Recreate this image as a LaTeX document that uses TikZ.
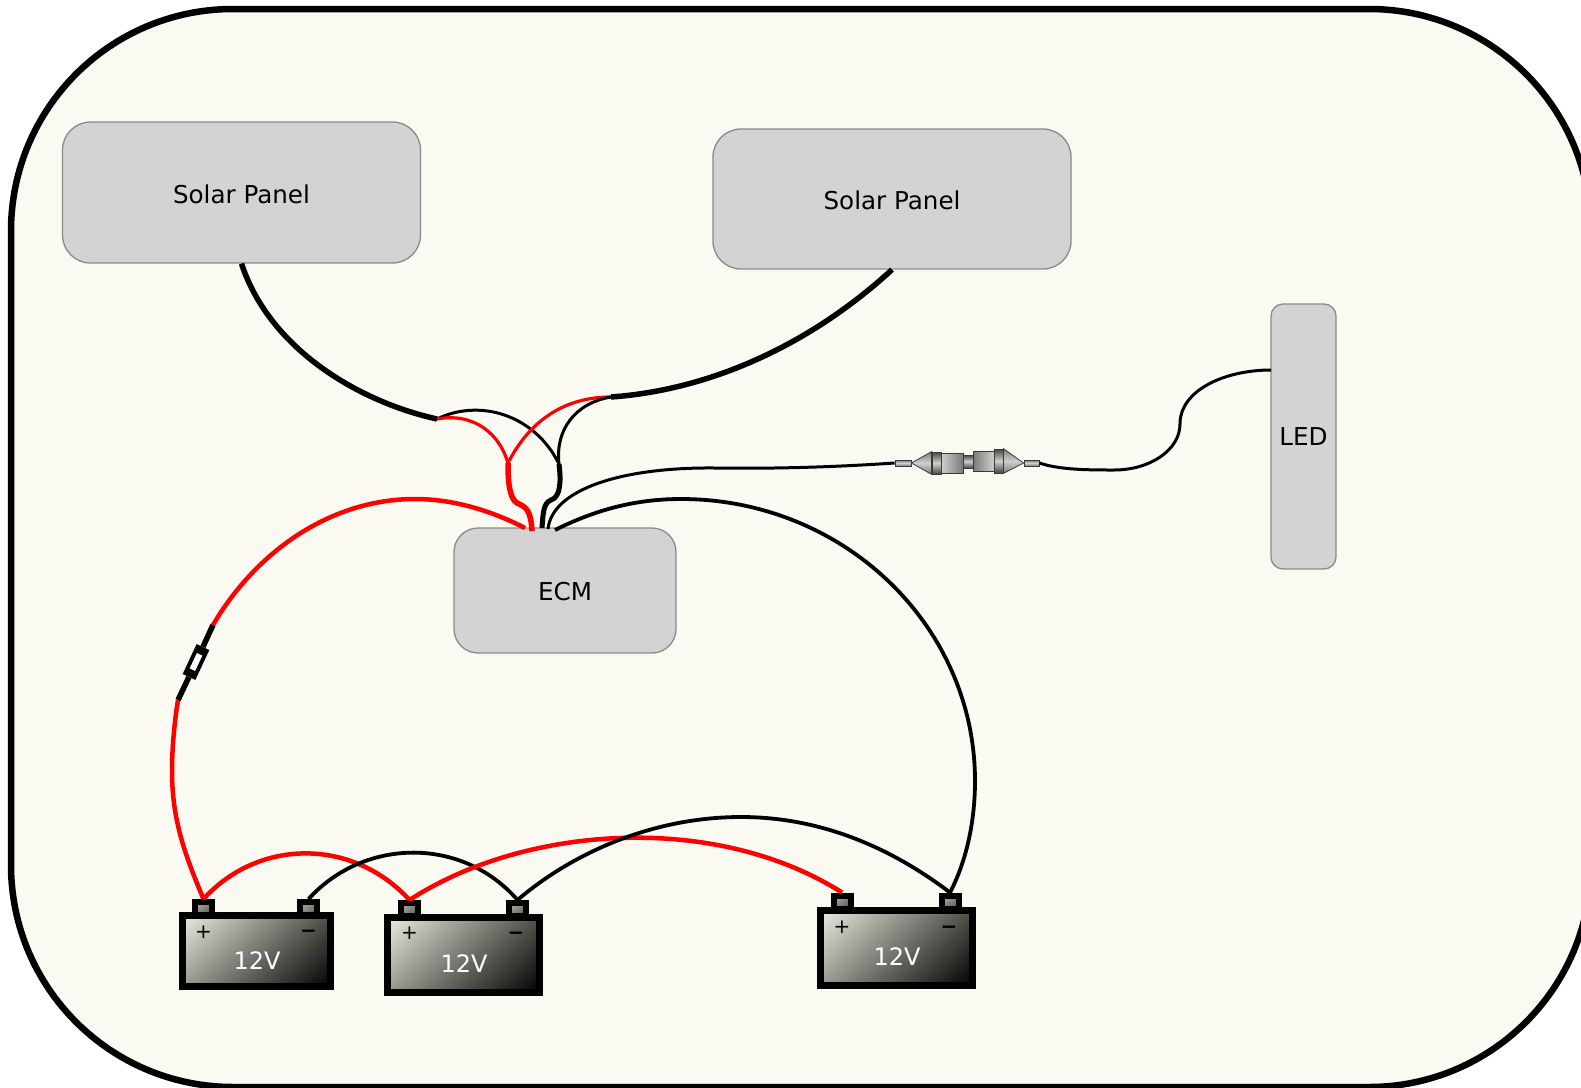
\documentclass[tikz,border=0pt]{standalone}
\usepackage{fontspec}
\setmainfont{DejaVu Sans}
\usetikzlibrary{arrows,shadings}

\definecolor{shell}{HTML}{FAFAF2}
\definecolor{boxgray}{HTML}{D3D3D3}
\definecolor{boxline}{HTML}{8A8A8A}
\definecolor{batlight}{HTML}{ECECE2}
\definecolor{batright}{HTML}{505049}
\definecolor{batleft}{HTML}{9A9A90}
\definecolor{postlight}{HTML}{B4B4AC}
\definecolor{postmid}{HTML}{85857F}
\definecolor{postdark}{HTML}{4E4E4A}
\definecolor{plugline}{HTML}{3A3A3A}
\definecolor{pluglight}{HTML}{CFCFCB}
\definecolor{plugmid}{HTML}{7A7A78}
\definecolor{plugdark}{HTML}{454545}
\definecolor{livered}{HTML}{FF0000}

\begin{document}
\begin{tikzpicture}[x=1pt,y=-1pt,
                    frame/.style={draw=black,line width=6.5pt,fill=shell,rounded corners=222pt,inner sep=0pt,minimum width=1580pt,minimum height=1078pt},
                    box node/.style={draw=boxline,line width=1.3pt,fill=boxgray,inner sep=0pt,text height=21.5pt,text depth=0pt,font=\fontsize{24.6}{29}\selectfont},
                    battery/.style={draw=black,line width=7pt,inner sep=0pt,upper left=batlight,upper right=batright,lower left=batleft,lower right=black},
                    post/.style={draw=black,line width=6pt,inner sep=0pt,minimum width=17pt,minimum height=13pt,upper left=postlight,upper right=postmid,lower left=postmid,lower right=postdark},
                    volt/.style={text=white,inner sep=0pt,font=\fontsize{24}{29}\selectfont},
                    sign/.style={inner sep=0pt,font=\fontsize{20}{24}\selectfont},
                    collar/.style={draw=plugline,line width=.8pt,inner sep=0pt,top color=plugdark,bottom color=plugdark,middle color=pluglight},
                    sleeve/.style={draw=plugline,line width=.8pt,inner sep=0pt,left color=pluglight,right color=plugmid},
                    cone/.style={draw=plugline,line width=.8pt,top color=plugmid,bottom color=plugmid,middle color=pluglight},
                    thin wire/.style={draw=black,line width=3pt},
                    thick wire/.style={draw=black,line width=5.5pt},
                    red wire/.style={draw=livered,line width=4.5pt},
                    thin red/.style={draw=livered,line width=3.2pt},
                    black wire/.style={draw=black,line width=3.8pt}]

  \path[use as bounding box,clip] (0,0) rectangle (1581,1087);

  \node[frame] (frame) at (801,548) {};

  \node[box node,rounded corners=28pt,minimum width=358pt,minimum height=141pt] (panel1) at (241.5,192.5) {Solar Panel};
  \node[box node,rounded corners=28pt,minimum width=358pt,minimum height=140pt] (panel2) at (892,199) {Solar Panel};
  \node[box node,text height=19.5pt,rounded corners=24pt,minimum width=222pt,minimum height=125pt] (ecm) at (565,590.5) {ECM};
  \node[box node,text height=17.5pt,rounded corners=12pt,minimum width=65pt,minimum height=265pt] (led) at (1303.5,436.5) {LED};

  \node[post] (b1plus) at (203.5,908.5) {};
  \node[post] (b1minus) at (308.5,908.5) {};
  \node[post] (b2plus) at (409.5,909.5) {};
  \node[post] (b2minus) at (517.5,909.5) {};
  \node[post] (b3plus) at (842,902) {};
  \node[post] (b3minus) at (950,902) {};

  \node[battery,minimum width=148pt,minimum height=71pt] (b1) at (256.5,951) {};
  \node[battery,minimum width=152pt,minimum height=75pt] (b2) at (463.5,955) {};
  \node[battery,minimum width=152pt,minimum height=75pt] (b3) at (896.5,948) {};

  \node[volt] (v1) at (257,961) {12V};
  \node[volt] (v2) at (464,964) {12V};
  \node[volt] (v3) at (897,957) {12V};

  \node[sign] (p1) at (203.5,932) {+};
  \node[sign,font=\fontsize{20}{24}\selectfont\bfseries] (m1) at (308.5,934) {−};
  \node[sign] (p2) at (409.5,933) {+};
  \node[sign,font=\fontsize{20}{24}\selectfont\bfseries] (m2) at (516,936) {−};
  \node[sign] (p3) at (842,927) {+};
  \node[sign,font=\fontsize{20}{24}\selectfont\bfseries] (m3) at (949,930) {−};

  \coordinate (join1) at (437,419);
  \coordinate (join2) at (611,397);
  \coordinate (joinred) at (508,463);
  \coordinate (joinblack) at (559,464);
  \coordinate (ecm1) at (525,528);
  \coordinate (ecm2) at (532,531);
  \coordinate (ecm3) at (542,528);
  \coordinate (ecm4) at (548,529);
  \coordinate (ecm5) at (555,530);
  \coordinate (ledin) at (1271,370);
  \coordinate (fusetop) at (213,625);
  \coordinate (fusebot) at (178,700);

  \node[fill=black,inner sep=0pt,rotate=65,minimum width=33pt,minimum height=14pt] (fuse) at (196,662) {};
  \node[fill=white,inner sep=0pt,rotate=65,minimum width=17pt,minimum height=6pt] (fuseslot) at (196,662) {};

  \node[collar,top color=plugmid,bottom color=plugmid,middle color=pluglight,minimum width=16pt,minimum height=6pt] (tabl) at (903,463) {};
  \node[collar,minimum width=9pt,minimum height=22pt] (coll) at (936.5,463) {};
  \node[sleeve,minimum width=22pt,minimum height=20pt] (bodyl) at (952,463) {};
  \node[collar,minimum width=10pt,minimum height=13pt] (pin) at (968,461.5) {};
  \node[sleeve,left color=plugmid,right color=pluglight,minimum width=21pt,minimum height=20pt] (bodyr) at (983.5,461) {};
  \node[collar,minimum width=9pt,minimum height=24pt] (colr) at (998.5,461) {};
  \node[collar,top color=plugmid,bottom color=plugmid,middle color=pluglight,minimum width=15pt,minimum height=6pt] (tabr) at (1031.5,463) {};
  \shade[cone] (tabl.east) -- (coll.north west) -- (coll.south west) -- cycle;
  \shade[cone] (colr.north east) -- (tabr.west) -- (colr.south east) -- cycle;

  \draw[thick wire] (panel1.south) .. controls (270,350) and (360,402) .. (join1);
  \draw[thick wire] (panel2.south) .. controls (810,345) and (710,390) .. (join2);
  \draw[thin wire] (join1) .. controls (480,398) and (535,415) .. (joinblack);
  \draw[thin red] (join1) .. controls (475,412) and (500,435) .. (joinred);
  \draw[thin red] (join2) .. controls (565,397) and (530,420) .. (joinred);
  \draw[thin wire] (join2) .. controls (575,403) and (555,430) .. (joinblack);
  \draw[red wire,line width=5.5pt] (joinred) .. controls (508,480) and (509,498) .. (517,503) .. controls (527,507) and (531,512) .. (ecm2);
  \draw[thick wire,line width=5pt] (joinblack) .. controls (561,480) and (561,497) .. (551,500) .. controls (543,503) and (543,515) .. (ecm3);
  \draw[thin wire] (ecm4) .. controls (552,490) and (620,467) .. (715,468) .. controls (790,469) and (850,466) .. (tabl.west);
  \draw[thin wire] (tabr.east) .. controls (1060,470) and (1090,470) .. (1114,470) .. controls (1150,470) and (1180,450) .. (1180,424) .. controls (1180,390) and (1225,370) .. (ledin);

  \draw[red wire] (ecm1) .. controls (490,510) and (452,499) .. (415,499) .. controls (332,499) and (257,550) .. (fusetop);
  \draw[red wire] (fusebot) .. controls (174,725) and (172,750) .. (172,771) .. controls (172,820) and (185,855) .. (b1plus.north);
  \draw[thick wire] (fuse) -- (fusetop);
  \draw[thick wire] (fuse) -- (fusebot);
  \draw[black wire] (ecm5) .. controls (595,510) and (635,499) .. (681,499) .. controls (843,499) and (975,625) .. (975,781) .. controls (975,820) and (967,860) .. (b3minus.north);

  \draw[red wire] (b1plus.north) .. controls (259,838) and (353,838) .. (b2plus.north);
  \draw[black wire] (b1minus.north) .. controls (365,837) and (463,837) .. (b2minus.north);
  \draw[red wire] (b2plus.north) .. controls (525,825) and (715,812) .. (b3plus.north);
  \draw[black wire] (b2minus.north) .. controls (570,855) and (650,817) .. (741,817) .. controls (820,817) and (890,847) .. (b3minus.north);
\end{tikzpicture}
\end{document}
